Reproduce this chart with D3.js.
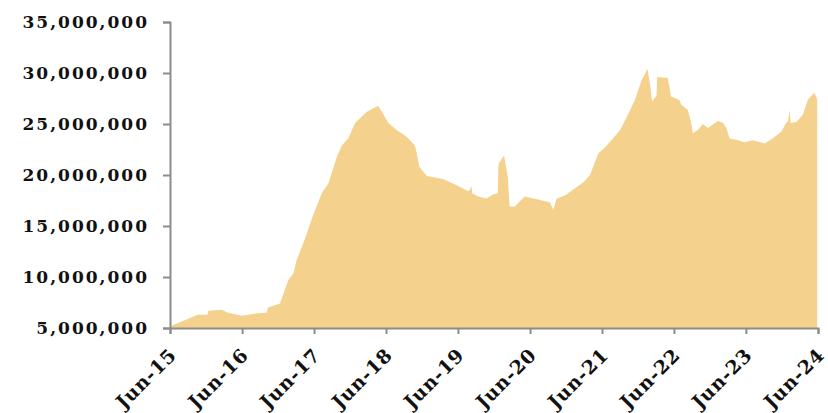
<!DOCTYPE html>
<html>
<head>
<meta charset="utf-8">
<script src="https://cdn.jsdelivr.net/npm/d3@7"></script>
<style>
  body { margin: 0; background: #fff; }
  .axis text { font-family: "DejaVu Serif", serif; font-weight: bold; fill: #111; }
</style>
</head>
<body>
<script>
// daily series (values in millions)
const dates = [
  '2015-06-01','2015-06-06','2015-10-20','2015-12-08','2015-12-13','2016-02-18','2016-03-22','2016-05-30',
  '2016-08-22','2016-10-04','2016-10-10','2016-12-10','2017-01-22','2017-02-17','2017-03-05','2017-04-17',
  '2017-05-28','2017-07-10','2017-08-13','2017-09-25','2017-10-20','2017-11-22','2017-12-26','2018-01-21',
  '2018-02-24','2018-04-22','2018-05-17','2018-06-13','2018-07-25','2018-09-14','2018-10-25','2018-10-31',
  '2018-11-17','2018-12-25','2019-03-17','2019-05-25','2019-07-14','2019-07-26','2019-08-09','2019-08-12',
  '2019-09-12','2019-10-24','2019-11-27','2019-12-20','2019-12-24','2020-01-21','2020-02-09','2020-02-18',
  '2020-03-15','2020-05-05','2020-07-12','2020-09-10','2020-09-27','2020-10-14','2020-11-25','2021-01-15',
  '2021-02-27','2021-04-01','2021-05-13','2021-06-16','2021-07-19','2021-09-01','2021-10-13','2021-11-16',
  '2021-12-19','2022-01-18','2022-02-01','2022-02-10','2022-03-05','2022-03-08','2022-05-01','2022-05-17',
  '2022-06-29','2022-07-07','2022-08-10','2022-08-27','2022-09-05','2022-10-01','2022-10-25','2022-11-21',
  '2023-01-10','2023-02-05','2023-02-22','2023-03-10','2023-04-21','2023-05-25','2023-07-06','2023-09-04',
  '2023-10-16','2023-11-28','2023-12-22','2024-01-01','2024-01-09','2024-01-14','2024-02-12','2024-03-16',
  '2024-04-10','2024-05-14','2024-05-28'
];
const values = [
  5.05, 5.2, 6.3, 6.3, 6.7, 6.8, 6.5, 6.2,
  6.45, 6.5, 7.0, 7.4, 9.7, 10.4, 11.7, 13.8,
  16.1, 18.2, 19.2, 21.8, 22.9, 23.6, 25.1, 25.6,
  26.2, 26.8, 26.0, 25.1, 24.4, 23.75, 22.9, 22.5,
  20.8, 19.9, 19.6, 19.0, 18.5, 18.4, 18.9, 18.2,
  17.9, 17.7, 18.1, 18.2, 21.1, 21.9, 19.8, 16.9,
  16.9, 17.9, 17.6, 17.3, 16.6, 17.7, 18.0, 18.7,
  19.3, 20.0, 22.1, 22.7, 23.4, 24.4, 26.0, 27.4,
  29.3, 30.4, 28.7, 27.2, 27.8, 29.6, 29.5, 27.7,
  27.35, 26.9, 26.4, 25.2, 24.1, 24.4, 25.0, 24.6,
  25.3, 25.1, 24.6, 23.6, 23.4, 23.2, 23.4, 23.1,
  23.6, 24.25, 25.1, 25.3, 26.4, 25.1, 25.2, 25.9,
  27.35, 28.1, 27.4
];
const yTicks = [5e6, 10e6, 15e6, 20e6, 25e6, 30e6, 35e6];
const xTicks = ['2015-06-01','2016-06-01','2017-06-01','2018-06-01','2019-06-01',
  '2020-06-01','2021-06-01','2022-06-01','2023-06-01','2024-06-01'];

const w = 828, h = 413;
const m = { left: 170, right: 10, top: 22, bottom: 85 };
const parse = d3.timeParse('%Y-%m-%d');

const data = dates.map((d, i) => ({ date: parse(d), value: values[i] * 1e6 }));

const svg = d3.select('body').append('svg')
  .attr('width', w)
  .attr('height', h);

const x = d3.scaleTime()
  .domain([parse(xTicks[0]), parse(xTicks[xTicks.length - 1])])
  .range([m.left, w - m.right]);

const y = d3.scaleLinear()
  .domain([5e6, 35e6])
  .range([h - m.bottom, m.top]);

const area = d3.area()
  .x(d => x(d.date))
  .y0(y(5e6))
  .y1(d => y(d.value));

svg.append('path')
  .datum(data)
  .attr('fill', '#F4D18D')
  .attr('d', area);

// y axis
const yAxis = svg.append('g')
  .attr('class', 'axis')
  .attr('transform', `translate(${m.left},0)`)
  .call(d3.axisLeft(y).tickValues(yTicks).tickFormat(d3.format(',')).tickSize(7).tickPadding(14));
yAxis.selectAll('text').style('font-size', '17px').style('letter-spacing', '2px');

// x axis, labels hang at 45 degrees below each tick
const xAxis = svg.append('g')
  .attr('class', 'axis')
  .attr('transform', `translate(0,${h - m.bottom})`)
  .call(d3.axisBottom(x).tickValues(xTicks.map(parse)).tickFormat(d3.timeFormat('%b-%y')).tickSize(6));
xAxis.selectAll('text')
  .style('font-size', '19px')
  .style('letter-spacing', '0.8px')
  .attr('text-anchor', 'end')
  .attr('x', -15)
  .attr('y', 25)
  .attr('dy', 0)
  .attr('transform', 'rotate(-45)');

svg.selectAll('.axis path, .axis line')
  .attr('stroke', '#8c8c8c')
  .attr('stroke-width', 2);
</script>
</body>
</html>
